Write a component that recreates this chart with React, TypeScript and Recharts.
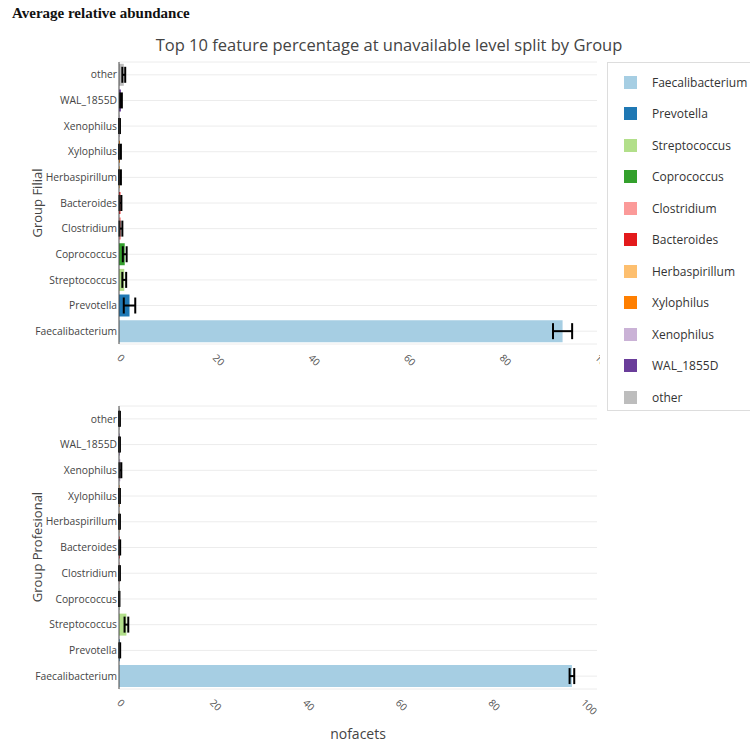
import { BarChart, Bar, XAxis, YAxis, CartesianGrid, ErrorBar, Cell } from 'recharts'

const categories = [
  'Faecalibacterium', 'Prevotella', 'Streptococcus', 'Coprococcus', 'Clostridium',
  'Bacteroides', 'Herbaspirillum', 'Xylophilus', 'Xenophilus', 'WAL_1855D', 'other',
]
const colors = [
  '#a6cee3', '#1f78b4', '#b2df8a', '#33a02c', '#fb9a99',
  '#e31a1c', '#fdbf6f', '#ff7f00', '#cab2d6', '#6a3d9a', '#bdbdbd',
]
const filialValues = [92.8, 2.2, 1.1, 1.2, 0.4, 0.3, 0.2, 0.2, 0.1, 0.4, 1.0]
const filialErrors = [2.0, 1.2, 0.4, 0.4, 0.3, 0.2, 0.2, 0.2, 0.1, 0.2, 0.3]
const profValues = [97.6, 0.15, 1.6, 0.05, 0.1, 0.15, 0.1, 0.1, 0.3, 0.1, 0.1]
const profErrors = [0.5, 0.1, 0.4, 0.05, 0.1, 0.1, 0.1, 0.1, 0.2, 0.1, 0.1]
const xTicks = [0, 20, 40, 60, 80, 100]

const FONT = '"Open Sans", "DejaVu Sans", sans-serif'

const rows = (vals: number[], errs: number[]) =>
  categories.map((name, i) => ({ name, value: vals[i], err: errs[i] }))

// plotly-like autorange: pad the max error end by 5%, never below 100
const rangeMax = (vals: number[], errs: number[]) =>
  Math.max(100, Math.max(...vals.map((v, i) => v + errs[i])) * 1.05)

function RotTick({ x, y, payload }: any) {
  return (
    <text x={x} y={y + 4} transform={`rotate(45, ${x}, ${y + 4})`} textAnchor="start"
      dy="0.35em" fontSize={10} fill="#555" fontFamily={FONT}>
      {payload.value}
    </text>
  )
}

type PanelProps = { vals: number[]; errs: number[]; height: number; top: number; bottom: number }

function Panel({ vals, errs, height, top, bottom }: PanelProps) {
  return (
    <BarChart width={600} height={height} data={rows(vals, errs)} layout="vertical"
      barCategoryGap="7%" margin={{ top, right: 3, left: 0, bottom }}>
      <CartesianGrid stroke="#ececec" vertical={false} />
      <XAxis type="number" domain={[0, rangeMax(vals, errs)]} ticks={xTicks} axisLine={false}
        tickLine={false} tick={<RotTick />} height={30} interval={0} allowDataOverflow />
      <YAxis type="category" dataKey="name" reversed width={119} tickSize={0} tickMargin={2}
        axisLine={{ stroke: '#444' }} tickLine={false} interval={0}
        tick={{ fontSize: 10.3, fill: '#444', fontFamily: FONT }} />
      <Bar dataKey="value" isAnimationActive={false}>
        {categories.map((c, i) => <Cell key={c} fill={colors[i]} />)}
        <ErrorBar dataKey="err" direction="x" width={8} strokeWidth={2} stroke="#000" />
      </Bar>
    </BarChart>
  )
}

export default function App() {
  return (
    <div style={{ position: 'relative', width: 750, height: 744, overflow: 'hidden', background: '#fff' }}>
      <style>{'body{margin:0}'}</style>
      <div style={{ position: 'absolute', left: 12, top: 5, fontFamily: '"Liberation Serif", serif', fontWeight: 700, fontSize: 15, color: '#111' }}>
        Average relative abundance
      </div>
      <div style={{ position: 'absolute', left: 0, width: 778, top: 33, textAlign: 'center', fontFamily: FONT, fontSize: 16.5, color: '#444' }}>
        Top 10 feature percentage at unavailable level split by Group
      </div>
      <div style={{ position: 'absolute', left: 0, top: 0 }}>
        <Panel vals={filialValues} errs={filialErrors} height={380} top={62} bottom={6} />
      </div>
      <div style={{ position: 'absolute', left: 0, top: 380 }}>
        <Panel vals={profValues} errs={profErrors} height={364} top={26} bottom={25} />
      </div>
      <div style={{ position: 'absolute', left: 37, top: 203, transform: 'translate(-50%,-50%) rotate(-90deg)', whiteSpace: 'nowrap', fontFamily: FONT, fontSize: 13, color: '#444' }}>
        Group Filial
      </div>
      <div style={{ position: 'absolute', left: 37, top: 547, transform: 'translate(-50%,-50%) rotate(-90deg)', whiteSpace: 'nowrap', fontFamily: FONT, fontSize: 13, color: '#444' }}>
        Group Profesional
      </div>
      <div style={{ position: 'absolute', left: 358, top: 733, transform: 'translate(-50%,-50%)', fontFamily: FONT, fontSize: 14, color: '#444' }}>
        nofacets
      </div>
      <div style={{ position: 'absolute', left: 607, top: 62, width: 160, height: 349, border: '1px solid #ddd', boxSizing: 'border-box', background: '#fff' }}>
        {categories.map((c, i) => (
          <div key={c} style={{ position: 'absolute', left: 16, top: 12 + i * 31.5, display: 'flex', alignItems: 'center', height: 14 }}>
            <span style={{ width: 13, height: 13, background: colors[i], display: 'inline-block' }} />
            <span style={{ marginLeft: 15, fontFamily: FONT, fontSize: 12, color: '#333' }}>{c}</span>
          </div>
        ))}
      </div>
    </div>
  )
}
